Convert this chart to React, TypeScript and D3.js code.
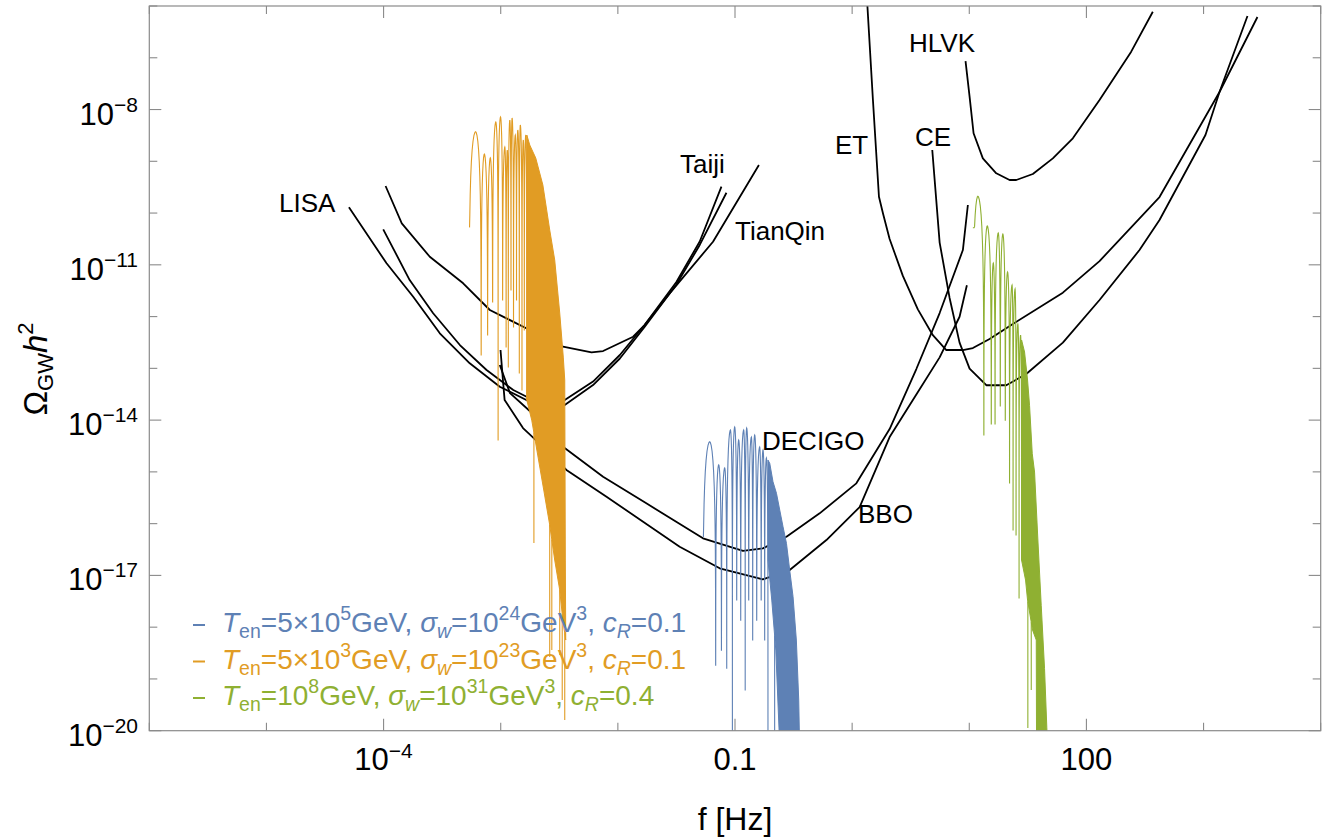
import React from "react";
import * as d3 from "d3";

type P = [number, number];

// ---------- axes ----------
const X_DOMAIN: P = [1e-6, 1e4];
const Y_DOMAIN: P = [1e-20, 1e-6];
const X_TICKS = [1e-6, 1e-5, 1e-4, 1e-3, 1e-2, 1e-1, 1, 10, 100, 1e3, 1e4];
const Y_TICKS = [1e-20, 1e-19, 1e-18, 1e-17, 1e-16, 1e-15, 1e-14, 1e-13, 1e-12, 1e-11, 1e-10, 1e-9, 1e-8, 1e-7, 1e-6];
const X_LABELS: { v: number; base: string; exp?: string }[] = [
  { v: 1e-4, base: "10", exp: "−4" },
  { v: 0.1, base: "0.1" },
  { v: 100, base: "100" },
];
const Y_LABELS: { v: number; exp: string }[] = [
  { v: 1e-8, exp: "−8" },
  { v: 1e-11, exp: "−11" },
  { v: 1e-14, exp: "−14" },
  { v: 1e-17, exp: "−17" },
  { v: 1e-20, exp: "−20" },
];

// ---------- detector sensitivity curves [f (Hz), Omega h^2] ----------
const LISA: P[] = [
  [5.06e-5, 1.29e-10], [1.06e-4, 1.07e-11], [1.79e-4, 2.42e-12], [3.02e-4, 4.75e-13],
  [5.44e-4, 1.25e-13], [9.82e-4, 4.42e-14], [1.77e-3, 2.26e-14], [2.52e-3, 1.87e-14],
  [3.52e-3, 1.95e-14], [6.14e-3, 4.76e-14], [1.04e-2, 1.55e-13], [1.69e-2, 6.28e-13],
  [3.16e-2, 4.16e-12], [5.0e-2, 2.42e-11], [8.45e-2, 2.47e-10],
];
const TAIJI: P[] = [
  [9.93e-5, 4.85e-11], [1.67e-4, 5.08e-12], [2.65e-4, 1.16e-12], [4.48e-4, 2.82e-13],
  [7.57e-4, 9.29e-14], [1.28e-3, 3.81e-14], [2.02e-3, 2.26e-14], [2.62e-3, 2.14e-14],
  [3.52e-3, 2.44e-14], [6.14e-3, 5.56e-14], [1.04e-2, 1.81e-13], [1.69e-2, 6.87e-13],
  [3.16e-2, 4.66e-12], [5.0e-2, 2.82e-11], [7.66e-2, 3.23e-10],
];
const TIANQIN: P[] = [
  [1.04e-4, 3.33e-10], [1.43e-4, 6.34e-11], [2.48e-4, 1.43e-11], [4.78e-4, 4.4e-12],
  [8.07e-4, 1.34e-12], [1.77e-3, 5.5e-13], [3.4e-3, 2.62e-13], [5.96e-3, 2.04e-13],
  [7.48e-3, 2.16e-13], [1.35e-2, 4.08e-13], [1.69e-2, 6.87e-13], [2.77e-2, 2.81e-12],
  [6.49e-2, 2.79e-11], [1.6e-1, 8.47e-10],
];
const DECIGO: P[] = [
  [9.82e-4, 1.16e-13], [1.2e-3, 3.33e-14], [1.77e-3, 1.5e-14], [3.4e-3, 3.06e-15],
  [7.48e-3, 8.05e-16], [1.75e-2, 2.47e-16], [5.33e-2, 5.2e-17], [1.17e-1, 2.99e-17],
  [1.73e-1, 3.33e-17], [2.75e-1, 5.58e-17], [5.28e-1, 1.58e-16], [1.086, 6.01e-16],
  [2.089, 6.73e-15], [3.532, 9.71e-14], [5.585, 1.17e-12], [8.817, 1.93e-11], [9.727, 1.43e-10],
];
const BBO: P[] = [
  [9.96e-4, 2.26e-13], [1.05e-3, 5.14e-14], [1.08e-3, 2.44e-14], [1.55e-3, 7.03e-15],
  [2.46e-3, 2.64e-15], [3.64e-3, 1.09e-15], [8.0e-3, 3.31e-16], [3.37e-2, 3.58e-17],
  [7.4e-2, 1.37e-17], [1.73e-1, 8.39e-18], [2.93e-1, 1.27e-17], [6.03e-1, 4.82e-17],
  [1.159, 2.09e-16], [2.089, 4.71e-15], [3.532, 3.13e-14], [5.585, 1.63e-13],
  [8.26, 9.93e-13], [9.54, 4.04e-12],
];
const ET: P[] = [
  [1.35, 1.0e-6], [1.505, 1.53e-8], [1.694, 2.07e-10], [1.832, 9.89e-11], [2.089, 3.16e-11],
  [2.71, 6.11e-12], [3.639, 1.38e-12], [4.887, 4.37e-13], [6.368, 2.26e-13], [8.817, 2.26e-13],
  [10.73, 2.47e-13], [14.9, 3.68e-13], [23.55, 7.18e-13], [62.93, 2.9e-12], [129.4, 1.18e-11],
  [420.7, 2.04e-10], [1368, 2.18e-8], [2884, 6.13e-7],
];
const CE: P[] = [
  [4.831, 1.65e-9], [5.585, 2.69e-11], [6.792, 2.29e-12], [8.26, 3.14e-13], [10.06, 9.91e-14],
  [13.97, 4.72e-14], [20.7, 4.72e-14], [30.64, 7.76e-14], [62.93, 3.14e-13], [129.4, 2.09e-12],
  [283.8, 1.93e-11], [420.7, 7.35e-11], [1038, 3.22e-9], [1368, 2.18e-8], [2371, 6.41e-7],
];
const HLVK: P[] = [
  [9.29, 8.65e-8], [10.06, 1.77e-8], [10.88, 3.48e-9], [13.06, 1.14e-9], [17.0, 5.86e-10],
  [22.08, 4.35e-10], [25.18, 4.35e-10], [34.88, 5.68e-10], [51.68, 1.14e-9], [76.56, 2.78e-9],
  [129.4, 1.53e-8], [241.1, 1.31e-7], [368.8, 7.76e-7],
];
const DETECTORS = [LISA, TAIJI, TIANQIN, DECIGO, BBO, ET, CE, HLVK];
const DETECTOR_LABELS: { t: string; x: number; y: number }[] = [
  { t: "LISA", x: 279, y: 212 },
  { t: "Taiji", x: 680, y: 173 },
  { t: "TianQin", x: 735, y: 240 },
  { t: "DECIGO", x: 762, y: 450 },
  { t: "BBO", x: 858, y: 523 },
  { t: "ET", x: 835, y: 154 },
  { t: "CE", x: 915, y: 146 },
  { t: "HLVK", x: 909, y: 52 },
];

// ---------- GW spectra: start, lobe peaks, dips, dense envelope/floor, deep spikes ----------
const ORANGE_START: P = [5.38e-4, 5.37e-11];
const ORANGE_PEAKS: P[] = [
  [6.1e-4, 3.73e-9], [7.25e-4, 1.38e-9], [8.15e-4, 1.16e-9], [9.08e-4, 5.74e-9],
  [9.96e-4, 7.17e-9], [1.084e-3, 1.89e-9], [1.138e-3, 1.65e-9], [1.196e-3, 6.27e-9],
  [1.251e-3, 6.86e-9], [1.332e-3, 3.22e-9], [1.399e-3, 4.02e-9], [1.47e-3, 5.02e-9],
  [1.559e-3, 2.58e-9], [1.637e-3, 3.22e-9],
];
const ORANGE_DIPS: P[] = [
  [6.81e-4, 1.81e-13], [7.73e-4, 4.4e-13], [8.53e-4, 1.91e-12], [9.5e-4, 4.12e-15],
  [1.038e-3, 2.09e-12], [1.112e-3, 2.58e-13], [1.161e-3, 1.06e-13], [1.224e-3, 3.26e-12],
  [1.286e-3, 6.28e-13], [1.364e-3, 2.09e-12], [1.441e-3, 8.12e-14], [1.519e-3, 3.81e-14],
  [1.59e-3, 5.5e-13], [1.67e-3, 2.44e-14],
];
const ORANGE_ENVELOPE: P[] = [
  [1.67e-3, 3.22e-9], [1.77e-3, 2.06e-9], [1.99e-3, 1.16e-9], [2.29e-3, 3.48e-10],
  [2.62e-3, 4.7e-11], [2.89e-3, 1.24e-11], [3.19e-3, 1.17e-12], [3.42e-3, 1.65e-13],
  [3.52e-3, 5.95e-14], [3.56e-3, 1.98e-17], [3.59e-3, 5.64e-19],
];
const ORANGE_FLOOR: P[] = [
  [3.59e-3, 5.64e-19], [3.39e-3, 1.37e-18], [3.19e-3, 5.21e-18], [2.89e-3, 1.98e-17],
  [2.62e-3, 9.4e-17], [2.33e-3, 4.46e-16], [2.07e-3, 2.11e-15], [1.84e-3, 1.0e-14],
  [1.67e-3, 2.44e-14],
];
const ORANGE_SPIKES: P[] = [
  [1.92e-3, 4.22e-17], [2.62e-3, 2.65e-19], [2.73e-3, 3.61e-19], [3.19e-3, 2.89e-19],
  [3.35e-3, 3.91e-20], [3.52e-3, 1.61e-20],
];

const BLUE_START: P = [5.33e-2, 5.58e-17];
const BLUE_PEAKS: P[] = [
  [6.08e-2, 3.82e-15], [7.26e-2, 1.36e-15], [8.17e-2, 1.19e-15], [9.14e-2, 6.43e-15],
  [9.94e-2, 7.35e-15], [1.075e-1, 4.12e-15], [1.186e-1, 6.43e-15], [1.258e-1, 7.03e-15],
  [1.38e-1, 4.71e-15], [1.473e-1, 5.15e-15], [1.624e-1, 3.02e-15], [1.734e-1, 2.64e-15],
  [1.853e-1, 1.85e-15],
];
const BLUE_DIPS: P[] = [
  [6.84e-2, 1.85e-19], [7.66e-2, 3.61e-19], [8.5e-2, 1.62e-19], [9.5e-2, 5e-21],
  [1.034e-1, 3.34e-18], [1.119e-1, 1.37e-18], [1.222e-1, 6.1e-20], [1.309e-1, 3.34e-18],
  [1.416e-1, 5.64e-19], [1.532e-1, 1.37e-18], [1.673e-1, 3.34e-18], [1.792e-1, 5.64e-19],
  [1.912e-1, 5e-21],
];
const BLUE_ENVELOPE: P[] = [
  [1.912e-1, 1.69e-15], [1.98e-1, 1.46e-15], [2.11e-1, 6.45e-16], [2.26e-1, 3.85e-16],
  [2.41e-1, 1.83e-16], [2.57e-1, 8.71e-17], [2.75e-1, 4.16e-17], [2.93e-1, 1.27e-17],
  [3.13e-1, 3.87e-18], [3.34e-1, 5.64e-19], [3.5e-1, 3.91e-20], [3.56e-1, 5e-21],
];
const BLUE_FLOOR: P[] = [
  [3.56e-1, 5e-21], [2.41e-1, 5e-21], [2.23e-1, 3.61e-19], [2.06e-1, 3.34e-18], [1.912e-1, 1.98e-17],
];
const BLUE_SPIKES: P[] = [[2.18e-1, 5e-21]];

const GREEN_START: P = [10.73, 5.19e-11];
const GREEN_PEAKS: P[] = [
  [11.84, 2.11e-10], [14.24, 5.62e-11], [16.03, 1.08e-11], [17.68, 4.12e-11], [19.35, 3.94e-11],
  [21.23, 7.26e-12], [23.19, 4.07e-12], [24.6, 3.41e-12], [25.99, 7.18e-13], [27.41, 4.4e-13],
];
const GREEN_DIPS: P[] = [
  [13.32, 5.15e-15], [15.41, 8.4e-15], [16.6, 8.4e-15], [18.39, 1.87e-14], [20.29, 1.0e-14],
  [22.07, 6.09e-16], [23.65, 7.52e-17], [25.08, 6.02e-17], [26.61, 3.65e-18], [27.95, 1.98e-17],
];
const GREEN_ENVELOPE: P[] = [
  [27.95, 3.53e-13], [29.64, 2.07e-13], [31.44, 5.95e-14], [32.7, 1.91e-14], [34.48, 2.24e-15],
  [36.08, 9.93e-16], [38.48, 5.06e-17], [41.15, 2.6e-18], [43.9, 1.59e-19], [45.93, 1.14e-20],
  [46.57, 5e-21],
];
const GREEN_FLOOR: P[] = [
  [46.57, 5e-21], [37.52, 5e-21], [37.3, 5.64e-19], [34.68, 8.8e-19], [31.44, 3.34e-18],
  [30.23, 8.14e-18], [27.95, 1.98e-17],
];
const GREEN_SPIKES: P[] = [[31.62, 1.13e-20], [33.81, 6.1e-20]];

const BLUE = "#5E81B5";
const ORANGE = "#E19C24";
const GREEN = "#8FB032";

const SPECTRA = [
  { c: BLUE, start: BLUE_START, peaks: BLUE_PEAKS, dips: BLUE_DIPS, env: BLUE_ENVELOPE, floor: BLUE_FLOOR, spikes: BLUE_SPIKES },
  { c: ORANGE, start: ORANGE_START, peaks: ORANGE_PEAKS, dips: ORANGE_DIPS, env: ORANGE_ENVELOPE, floor: ORANGE_FLOOR, spikes: ORANGE_SPIKES },
  { c: GREEN, start: GREEN_START, peaks: GREEN_PEAKS, dips: GREEN_DIPS, env: GREEN_ENVELOPE, floor: GREEN_FLOOR, spikes: GREEN_SPIKES },
];

const LEGEND = [
  { c: BLUE, T: "5×10", Texp: "5", s: "24", cR: "0.1" },
  { c: ORANGE, T: "5×10", Texp: "3", s: "23", cR: "0.1" },
  { c: GREEN, T: "10", Texp: "8", s: "31", cR: "0.4" },
];

const W = 1329;
const H = 839;
const PX0 = 149.3, PX1 = 1320.7, PY0 = 6, PY1 = 730.7;
const FONT = "'Liberation Sans', Arial, Helvetica, sans-serif";

// arch-shaped lobes between the read dips, peaking at the read peaks
const U = [0, 0.0005, 0.002, 0.006, 0.015, 0.03, 0.06, 0.1, 0.16, 0.24, 0.34, 0.46, 0.6, 0.75, 0.9, 1];
function lobes(start: P, peaks: P[], dips: P[]): P[] {
  const out: P[] = [start];
  let prev = start;
  peaks.forEach((pk, i) => {
    const dp = dips[i];
    const la = Math.log10(prev[0]), lp = Math.log10(pk[0]), lb = Math.log10(dp[0]);
    const lP = Math.log10(pk[1]);
    const arch = (u: number) => lP + 2 * Math.log10(Math.max(Math.sin((Math.PI * u) / 2), 1e-12));
    for (const u of U) {
      const lo = Math.max(arch(u), Math.log10(prev[1]));
      out.push([10 ** (la + u * (lp - la)), 10 ** lo]);
    }
    for (let k = U.length - 2; k >= 0; k--) {
      const u = U[k];
      const lo = Math.max(arch(u), Math.log10(dp[1]));
      out.push([10 ** (lb + u * (lp - lb)), 10 ** lo]);
    }
    prev = dp;
  });
  return out;
}

function floorAt(floor: P[], f: number): number {
  const s = [...floor].sort((a, b) => a[0] - b[0]);
  for (let i = 0; i < s.length - 1; i++) {
    if (f >= s[i][0] && f <= s[i + 1][0]) {
      const t = (Math.log10(f) - Math.log10(s[i][0])) / (Math.log10(s[i + 1][0]) - Math.log10(s[i][0]));
      return 10 ** (Math.log10(s[i][1]) + t * (Math.log10(s[i + 1][1]) - Math.log10(s[i][1])));
    }
  }
  return s[s.length - 1][1];
}

export default function App() {
  const x = d3.scaleLog().domain(X_DOMAIN).range([PX0, PX1]);
  const y = d3.scaleLog().domain(Y_DOMAIN).range([PY1, PY0]);
  const line = d3.line<P>().x((d) => x(d[0])).y((d) => y(d[1]));
  const majorX = new Set(X_LABELS.map((d) => d.v));
  const majorY = new Set(Y_LABELS.map((d) => d.v));

  return (
    <svg width={W} height={H} style={{ position: "absolute", left: 0, top: 0, background: "#fff" }} fontFamily={FONT}>
      <defs>
        <clipPath id="plot">
          <rect x={PX0} y={PY0} width={PX1 - PX0} height={PY1 - PY0} />
        </clipPath>
      </defs>
      <rect x={0} y={0} width={W} height={H} fill="#fff" />
      <g clipPath="url(#plot)">
        {DETECTORS.map((d, i) => (
          <path key={i} d={line(d) || ""} fill="none" stroke="#000" strokeWidth={1.8} strokeLinejoin="round" />
        ))}
        {SPECTRA.map((s, i) => (
          <g key={i}>
            <path d={line(lobes(s.start, s.peaks, s.dips)) || ""} fill="none" stroke={s.c} strokeWidth={1.1} />
            <path d={(line([...s.env, ...s.floor]) || "") + "Z"} fill={s.c} stroke={s.c} strokeWidth={1} />
            {s.spikes.map((p, j) => (
              <line key={j} x1={x(p[0])} x2={x(p[0])} y1={y(floorAt(s.floor, p[0]))} y2={y(p[1])} stroke={s.c} strokeWidth={1.1} />
            ))}
          </g>
        ))}
      </g>

      {/* frame */}
      <rect x={PX0} y={PY0} width={PX1 - PX0} height={PY1 - PY0} fill="none" stroke="#8a8a8a" strokeWidth={1.2} />
      {X_TICKS.map((t) => {
        const L = majorX.has(t) ? 12 : 8;
        return (
          <g key={"x" + t} stroke="#8a8a8a" strokeWidth={1.1}>
            <line x1={x(t)} x2={x(t)} y1={PY1} y2={PY1 - L} />
            <line x1={x(t)} x2={x(t)} y1={PY0} y2={PY0 + L} />
          </g>
        );
      })}
      {Y_TICKS.map((t) => {
        const L = majorY.has(t) ? 12 : 8;
        return (
          <g key={"y" + t} stroke="#8a8a8a" strokeWidth={1.1}>
            <line x1={PX0} x2={PX0 + L} y1={y(t)} y2={y(t)} />
            <line x1={PX1} x2={PX1 - L} y1={y(t)} y2={y(t)} />
          </g>
        );
      })}

      {/* tick labels */}
      {X_LABELS.map((d) => (
        <text key={"xl" + d.v} x={x(d.v)} y={770} textAnchor="middle" fontSize={31} fill="#000">
          <tspan>{d.base}</tspan>
          {d.exp && (
            <tspan fontSize={21} dy={-12}>
              {d.exp}
            </tspan>
          )}
        </text>
      ))}
      {Y_LABELS.map((d) => (
        <text key={"yl" + d.v} x={138} y={y(d.v) + 15} textAnchor="end" fontSize={31} fill="#000">
          <tspan>10</tspan>
          <tspan fontSize={21} dy={-13}>
            {d.exp}
          </tspan>
        </text>
      ))}

      {/* axis titles */}
      <text x={735} y={830} textAnchor="middle" fontSize={32} fill="#000">
        f [Hz]
      </text>
      <text transform="translate(47,369) rotate(-90)" textAnchor="middle" fontSize={33} fill="#000">
        <tspan>Ω</tspan>
        <tspan fontSize={22} dy={6}>GW</tspan>
        <tspan dy={-6} fontStyle="italic">h</tspan>
        <tspan fontSize={22} dy={-14}>2</tspan>
      </text>

      {/* detector labels */}
      {DETECTOR_LABELS.map((l) => (
        <text key={l.t} x={l.x} y={l.y} fontSize={26} fill="#000">
          {l.t}
        </text>
      ))}

      {/* legend */}
      {LEGEND.map((r, i) => {
        const by = 632 + i * 36.5;
        const sub = 19.5;
        return (
          <g key={i} fill={r.c}>
            <line x1={193} x2={205} y1={by - 7} y2={by - 7} stroke={r.c} strokeWidth={2} />
            <text x={222} y={by} fontSize={28}>
              <tspan fontStyle="italic">T</tspan>
              <tspan fontSize={sub} dy={6}>en</tspan>
              <tspan dy={-6}>={r.T}</tspan>
              <tspan fontSize={sub} dy={-12}>{r.Texp}</tspan>
              <tspan dy={12}>GeV, </tspan>
              <tspan fontStyle="italic">σ</tspan>
              <tspan fontSize={sub} dy={6} fontStyle="italic">w</tspan>
              <tspan dy={-6}>=10</tspan>
              <tspan fontSize={sub} dy={-12}>{r.s}</tspan>
              <tspan dy={12}>GeV</tspan>
              <tspan fontSize={sub} dy={-12}>3</tspan>
              <tspan dy={12}>, </tspan>
              <tspan fontStyle="italic">c</tspan>
              <tspan fontSize={sub} dy={6} fontStyle="italic">R</tspan>
              <tspan dy={-6}>={r.cR}</tspan>
            </text>
          </g>
        );
      })}
    </svg>
  );
}
